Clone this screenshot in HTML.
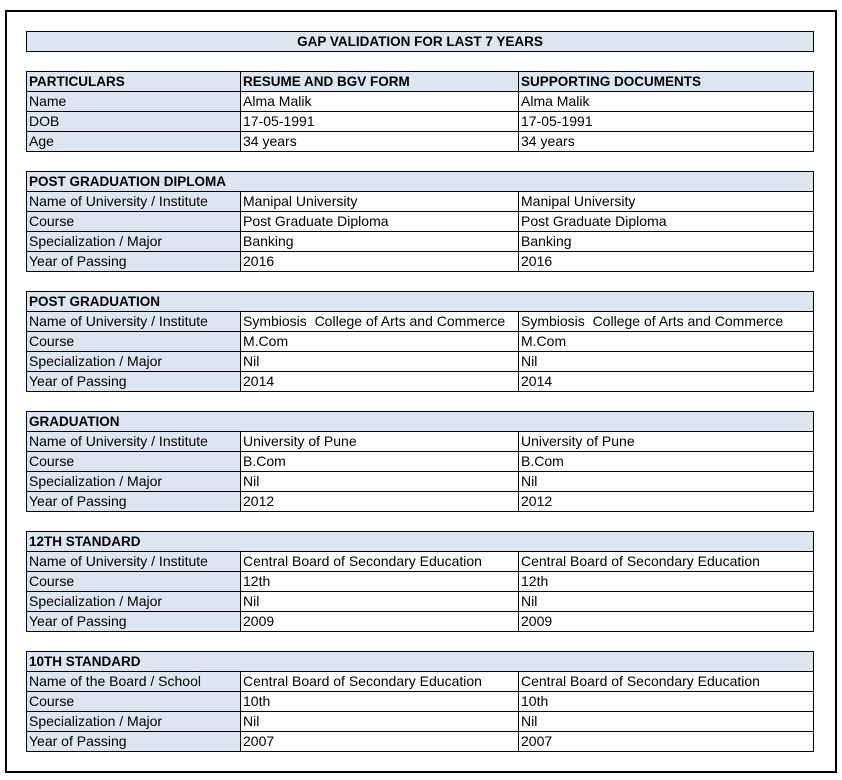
<!DOCTYPE html>
<html><head><meta charset="utf-8"><style>
body{margin:0;width:842px;height:780px;background:#fff;position:relative;font-family:"Liberation Sans",sans-serif;font-size:14px;color:#000;overflow:hidden}
.frame{position:absolute;left:5px;top:10px;width:828px;height:759px;border:2px solid #000}
.title{position:absolute;left:26px;top:31px;width:786px;height:19px;border:1px solid #000;background:#dce6f1;font-weight:bold;text-align:center;line-height:20px;font-size:13.5px}
table{position:absolute;left:26px;border-collapse:collapse;table-layout:fixed;width:787px}
td{border:1px solid #000;height:19px;padding:0 0 0 2px;line-height:19px;white-space:nowrap;overflow:hidden;box-sizing:border-box}
td.l{background:#dce6f1}
tr.h td{background:#dce6f1;font-weight:bold;font-size:13.5px}
</style></head><body>
<div class="frame"></div>
<div class="title">GAP VALIDATION FOR LAST 7 YEARS</div>

<table style="top:71px"><colgroup><col style="width:214px"><col style="width:278px"><col style="width:295px"></colgroup>
<tr class="h"><td>PARTICULARS</td><td>RESUME AND BGV FORM</td><td>SUPPORTING DOCUMENTS</td></tr>
<tr><td class="l">Name</td><td>Alma Malik</td><td>Alma Malik</td></tr>
<tr><td class="l">DOB</td><td>17-05-1991</td><td>17-05-1991</td></tr>
<tr><td class="l">Age</td><td>34 years</td><td>34 years</td></tr>
</table>

<table style="top:171px"><colgroup><col style="width:214px"><col style="width:278px"><col style="width:295px"></colgroup>
<tr class="h"><td colspan="3">POST GRADUATION DIPLOMA</td></tr>
<tr><td class="l">Name of University / Institute</td><td>Manipal University</td><td>Manipal University</td></tr>
<tr><td class="l">Course</td><td>Post Graduate Diploma</td><td>Post Graduate Diploma</td></tr>
<tr><td class="l">Specialization / Major</td><td>Banking</td><td>Banking</td></tr>
<tr><td class="l">Year of Passing</td><td>2016</td><td>2016</td></tr>
</table>

<table style="top:291px"><colgroup><col style="width:214px"><col style="width:278px"><col style="width:295px"></colgroup>
<tr class="h"><td colspan="3">POST GRADUATION</td></tr>
<tr><td class="l">Name of University / Institute</td><td>Symbiosis&nbsp; College of Arts and Commerce</td><td>Symbiosis&nbsp; College of Arts and Commerce</td></tr>
<tr><td class="l">Course</td><td>M.Com</td><td>M.Com</td></tr>
<tr><td class="l">Specialization / Major</td><td>Nil</td><td>Nil</td></tr>
<tr><td class="l">Year of Passing</td><td>2014</td><td>2014</td></tr>
</table>

<table style="top:411px"><colgroup><col style="width:214px"><col style="width:278px"><col style="width:295px"></colgroup>
<tr class="h"><td colspan="3">GRADUATION</td></tr>
<tr><td class="l">Name of University / Institute</td><td>University of Pune</td><td>University of Pune</td></tr>
<tr><td class="l">Course</td><td>B.Com</td><td>B.Com</td></tr>
<tr><td class="l">Specialization / Major</td><td>Nil</td><td>Nil</td></tr>
<tr><td class="l">Year of Passing</td><td>2012</td><td>2012</td></tr>
</table>

<table style="top:531px"><colgroup><col style="width:214px"><col style="width:278px"><col style="width:295px"></colgroup>
<tr class="h"><td colspan="3">12TH STANDARD</td></tr>
<tr><td class="l">Name of University / Institute</td><td>Central Board of Secondary Education</td><td>Central Board of Secondary Education</td></tr>
<tr><td class="l">Course</td><td>12th</td><td>12th</td></tr>
<tr><td class="l">Specialization / Major</td><td>Nil</td><td>Nil</td></tr>
<tr><td class="l">Year of Passing</td><td>2009</td><td>2009</td></tr>
</table>

<table style="top:651px"><colgroup><col style="width:214px"><col style="width:278px"><col style="width:295px"></colgroup>
<tr class="h"><td colspan="3">10TH STANDARD</td></tr>
<tr><td class="l">Name of the Board / School</td><td>Central Board of Secondary Education</td><td>Central Board of Secondary Education</td></tr>
<tr><td class="l">Course</td><td>10th</td><td>10th</td></tr>
<tr><td class="l">Specialization / Major</td><td>Nil</td><td>Nil</td></tr>
<tr><td class="l">Year of Passing</td><td>2007</td><td>2007</td></tr>
</table>
</body></html>
